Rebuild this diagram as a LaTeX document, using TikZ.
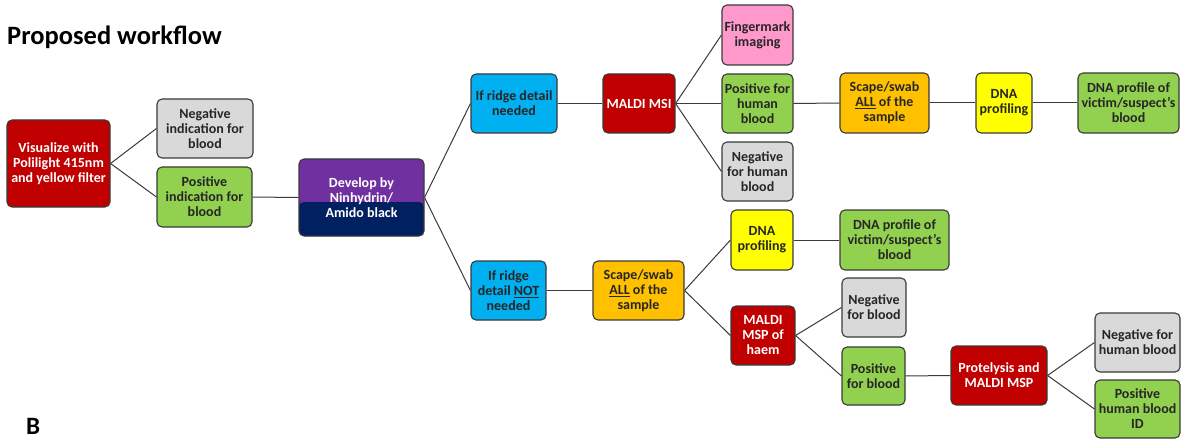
\documentclass[tikz,border=0pt]{standalone}
\usepackage{fontspec}
\setmainfont{Carlito}
\usetikzlibrary{calc}
\definecolor{dred}{HTML}{C00000}
\definecolor{lgray}{HTML}{D9D9D9}
\definecolor{lgreen}{HTML}{92D050}
\definecolor{purp}{HTML}{7030A0}
\definecolor{navy}{HTML}{002060}
\definecolor{sky}{HTML}{00B0F0}
\definecolor{pinkish}{HTML}{FF99CC}
\definecolor{orng}{HTML}{FFC000}
\definecolor{yel}{HTML}{FFFF00}
\definecolor{txt}{HTML}{262626}
\definecolor{edge}{HTML}{3A3A3A}
\begin{document}
\begin{tikzpicture}[x=1pt,y=-1pt,
  box/.style={draw=edge, line width=1.1pt, rounded corners=5pt, align=center,
    font=\fontsize{14}{15}\selectfont\bfseries, text=txt, inner sep=1pt},
  redbox/.style={box, fill=dred, text=white},
  graybox/.style={box, fill=lgray},
  greenbox/.style={box, fill=lgreen},
  bluebox/.style={box, fill=sky},
  orangebox/.style={box, fill=orng},
  yellowbox/.style={box, fill=yel},
  pinkbox/.style={box, fill=pinkish},
  sz/.style 2 args={minimum width=#1pt, minimum height=#2pt},
  conn/.style={draw=edge, line width=1pt}
]
\useasboundingbox (0,0) rectangle (1181,441);

\node[anchor=base west, font=\fontsize{26.5}{30}\selectfont\bfseries, text=black, inner sep=0pt] (title) at (7,45) {Proposed workflow};
\node[anchor=south west, font=\fontsize{25}{28}\selectfont\bfseries, text=black, inner sep=0pt] (blabel) at (26,435) {B};

\node[redbox, sz={103}{87}] (viz) at (58.5,163.5) {Visualize with\\Polilight 415nm\\and yellow filter};
\node[graybox, sz={96}{59}] (negind) at (205,128.5) {Negative\\indication for\\blood};
\node[greenbox, sz={95}{60}] (posind) at (204.5,197) {Positive\\indication for\\blood};

\node[box, sz={125}{77}, fill=purp, text=white,
  path picture={\fill[navy] (path picture bounding box.south west) rectangle ([yshift=34pt]path picture bounding box.south east);}]
  (dev) at (361.5,197.5) {Develop by\\Ninhydrin/\\Amido black};

\node[bluebox, sz={86}{59}] (ridge) at (514,103.5) {If ridge detail\\needed};
\node[bluebox, sz={75}{59}] (notridge) at (508.5,290.5) {If ridge\\detail \underline{NOT}\\needed};

\node[redbox, sz={72}{59}] (msi) at (639,103.5) {MALDI MSI};
\node[pinkbox, sz={71}{60}] (finger) at (757.5,35) {Fingermark\\imaging};
\node[greenbox, sz={71}{59}] (poshb) at (757.5,103.5) {Positive for\\human\\blood};
\node[graybox, sz={71}{59}] (neghb) at (757.5,171.5) {Negative\\for human\\blood};

\node[orangebox, sz={89}{60}] (scape1) at (884.5,103) {Scape/swab\\\underline{ALL} of the\\sample};
\node[yellowbox, sz={56}{60}] (dna1) at (1004,103) {DNA\\profiling};
\node[greenbox, sz={101}{60}] (prof1) at (1128.5,103) {DNA profile of\\victim/suspect’s\\blood};

\node[orangebox, sz={91}{59}] (scape2) at (638.5,290.5) {Scape/swab\\\underline{ALL} of the\\sample};
\node[yellowbox, sz={62}{60}] (dna2) at (762,240) {DNA\\profiling};
\node[greenbox, sz={109}{60}] (prof2) at (894.5,240) {DNA profile of\\victim/suspect’s\\blood};
\node[redbox, sz={64}{59}] (haem) at (763,335.5) {MALDI\\MSP of\\haem};
\node[graybox, sz={64}{59}] (negb) at (874,307.5) {Negative\\for blood};
\node[greenbox, sz={63}{58}] (posb) at (873.5,376) {Positive\\for blood};
\node[redbox, sz={96}{59}] (prot) at (999,375.5) {Protelysis and\\MALDI MSP};
\node[graybox, sz={85}{59}] (neghb2) at (1137.5,342.5) {Negative for\\human blood};
\node[greenbox, sz={85}{58}] (poshbid) at (1137.5,409) {Positive\\human blood\\ID};

\draw[conn] (viz.east) -- (negind.west);
\draw[conn] (viz.east) -- (posind.west);
\draw[conn] (posind.east) -- (dev.west);
\draw[conn] (dev.east) -- (ridge.west);
\draw[conn] (dev.east) -- (notridge.west);
\draw[conn] (ridge.east) -- (msi.west);
\draw[conn] (msi.east) -- (finger.west);
\draw[conn] (msi.east) -- (poshb.west);
\draw[conn] (msi.east) -- (neghb.west);
\draw[conn] (poshb.east) -- (scape1.west);
\draw[conn] (scape1.east) -- (dna1.west);
\draw[conn] (dna1.east) -- (prof1.west);
\draw[conn] (notridge.east) -- (scape2.west);
\draw[conn] (scape2.east) -- (dna2.west);
\draw[conn] (scape2.east) -- (haem.west);
\draw[conn] (dna2.east) -- (prof2.west);
\draw[conn] (haem.east) -- (negb.west);
\draw[conn] (haem.east) -- (posb.west);
\draw[conn] (posb.east) -- (prot.west);
\draw[conn] (prot.east) -- (neghb2.west);
\draw[conn] (prot.east) -- (poshbid.west);
\end{tikzpicture}
\end{document}
